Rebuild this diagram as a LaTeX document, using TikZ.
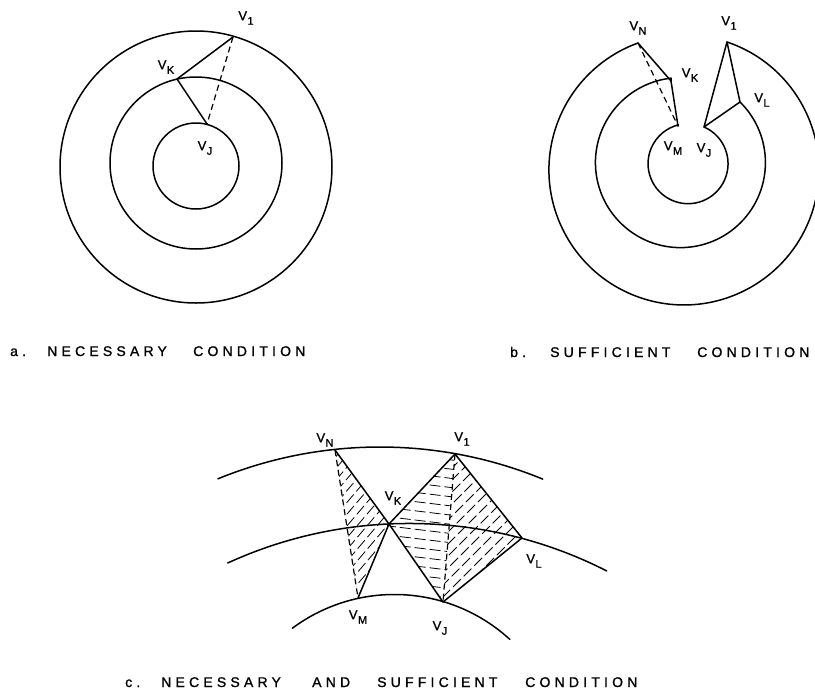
\documentclass[tikz,border=0pt]{standalone}
\usepackage{fontspec}
\setmainfont{Liberation Sans}
\newfontfamily\capfont[LetterSpace=30,FakeBold=1.2]{Liberation Sans}
\newfontfamily\labfont[FakeBold=1.2]{Liberation Sans}
\newcommand\vlab[1]{V\kern0.4pt\raisebox{-4.5pt}{\fontsize{11}{11}\selectfont #1}}
\begin{document}
\begin{tikzpicture}[x=1pt,y=-1pt,
  ln/.style={line width=1.5pt, line join=round, line cap=round},
  dsh/.style={line width=1.2pt, dash pattern=on 6pt off 4pt},
  hatch/.style={line width=0.8pt, dash pattern=on 11pt off 4pt},
  lab/.style={inner sep=0pt, font=\labfont\fontsize{13}{13}\selectfont},
  capt/.style={inner sep=0pt, anchor=base west, font=\capfont\fontsize{14}{14}\selectfont}]
\useasboundingbox (0,0) rectangle (815,694);

% ---------- panel a ----------
\draw[ln] (196,167) circle (136);
\draw[ln] (196,163) circle (86);
\draw[ln] (196,166) circle (43);
\coordinate (a1) at (233,37);
\coordinate (aK) at (177,79);
\coordinate (aJ) at (207,124);
\draw[ln] (aK) -- (a1);
\draw[ln] (aK) -- (aJ);
\draw[dsh] (a1) -- (aJ);
\node[lab] (la1) at (246,18) {\vlab{1}};
\node[lab] (laK) at (166,67) {\vlab{K}};
\node[lab] (laJ) at (205,148) {\vlab{J}};

% ---------- panel b ----------
\coordinate (b1) at (727,42);
\coordinate (bN) at (638,43);
\coordinate (bK) at (671,81);
\coordinate (bM) at (678,126);
\coordinate (bL) at (740,102);
\coordinate (bJ) at (704,127);
\draw[ln] (b1) arc[start angle=-71.4, end angle=250.1, radius=135] -- (bN);
\draw[ln] (bL) arc[start angle=-45.5, end angle=263.7, radius=85] -- (bK);
\draw[ln] (bJ) arc[start angle=-66.5, end angle=256.3, radius=40] -- (bM);
\draw[ln] (bN) -- (bK) -- (bM);
\draw[dsh] (bN) -- (bM);
\draw[ln] (bJ) -- (b1) -- (bL) -- (bJ);
\node[lab] (lbN) at (638,28) {\vlab{N}};
\node[lab] (lb1) at (729,23) {\vlab{1}};
\node[lab] (lbK) at (690,75) {\vlab{K}};
\node[lab] (lbL) at (762,100) {\vlab{L}};
\node[lab] (lbM) at (673,148) {\vlab{M}};
\node[lab] (lbJ) at (704,150) {\vlab{J}};

% ---------- panel c ----------
\coordinate (cN) at (335,450);
\coordinate (c1) at (455,454);
\coordinate (cK) at (389,524);
\coordinate (cL) at (522,538);
\coordinate (cM) at (358,598);
\coordinate (cJ) at (443,602);
\coordinate (co) at (217.9,478.8);
\coordinate (cm) at (227.7,563);
\coordinate (ci) at (292.4,628.2);

\begin{scope}
  \clip (cN) -- (cK) -- (cM) -- cycle;
  \foreach \i in {0,...,16} \draw[hatch] ({170+\i*10},640) -- ++(170,-200);
\end{scope}
\begin{scope}
  \clip (cK) -- (c1) -- (cJ) -- cycle;
  \foreach \i in {0,...,17} \draw[hatch] (370,{441+\i*9.2}) -- ++(100,12);
\end{scope}
\begin{scope}
  \clip (c1) -- (cL) -- (cJ) -- cycle;
  \foreach \i in {0,...,13} \draw[hatch] ({268+\i*12},640) -- ++(200,-200);
\end{scope}

\draw[ln] (co) arc[start angle=-112.2, end angle=-67.7, radius=429];
\draw[ln] (cm) arc[start angle=-114.6, end angle=-63.0, radius=435.5];
\draw[ln] (ci) arc[start angle=-126.6, end angle=-47.5, radius=171];
\draw[ln] (cN) -- (cK) -- (c1) -- (cL) -- (cJ) -- (cK) -- (cM);
\draw[dsh] (cN) -- (cM);
\draw[dsh] (c1) -- (cJ);
\node[lab] (lcN) at (325,440) {\vlab{N}};
\node[lab] (lc1) at (462,439) {\vlab{1}};
\node[lab] (lcK) at (393,498) {\vlab{K}};
\node[lab] (lcL) at (534,561) {\vlab{L}};
\node[lab] (lcM) at (358,617) {\vlab{M}};
\node[lab] (lcJ) at (440,628) {\vlab{J}};

% ---------- captions ----------
\node[capt] (ta1) at (10,356) {a.};
\node[capt] (ta2) at (47,356) {NECESSARY};
\node[capt] (ta3) at (193,356) {CONDITION};
\node[capt] (tb1) at (510,357) {b.};
\node[capt] (tb2) at (550,357) {SUFFICIENT};
\node[capt] (tb3) at (697,357) {CONDITION};
\node[capt] (tc1) at (125,687) {c.};
\node[capt] (tc2) at (161,687) {NECESSARY};
\node[capt] (tc3) at (312,687) {AND};
\node[capt] (tc4) at (377,687) {SUFFICIENT};
\node[capt] (tc5) at (525,687) {CONDITION};
\end{tikzpicture}
\end{document}
